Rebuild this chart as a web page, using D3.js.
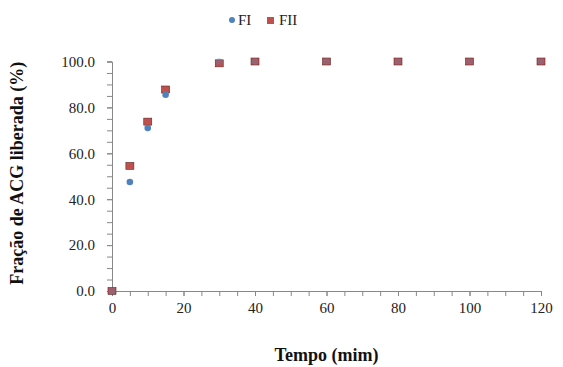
<!DOCTYPE html>
<html>
<head>
<meta charset="utf-8">
<script src="https://cdn.jsdelivr.net/npm/d3@7"></script>
<style>
  body { margin: 0; background: #fff; }
</style>
</head>
<body>
<svg width="563" height="367"></svg>
<script>
// data
const tempo = [0, 5, 10, 15, 30, 40, 60, 80, 100, 120];
const fI = [0, 47.5, 71, 85.5, 100, 100, 100, 100, 100, 100];
const fII = [0, 54.5, 73.8, 87.8, 99.2, 100, 100, 100, 100, 100];
const xTicks = [0, 20, 40, 60, 80, 100, 120];
const yTicks = [0, 20, 40, 60, 80, 100];

const serif = "Liberation Serif";

// chart dimensions
const margin = { top: 61.5, right: 22, bottom: 76, left: 112 };
const width = 563 - margin.left - margin.right;
const height = 367 - margin.top - margin.bottom;

const x = d3.scaleLinear().domain([0, 120]).range([0, width]);
const y = d3.scaleLinear().domain([0, 100]).range([height, 0]);

const svg = d3.select("svg");
const g = svg.append("g")
  .attr("transform", "translate(" + margin.left + "," + margin.top + ")");

// minor ticks every 5
g.append("g")
  .attr("transform", "translate(0," + height + ")")
  .call(d3.axisBottom(x).tickValues(d3.range(0, 121, 5)).tickSize(5).tickFormat(""))
  .call(a => a.select(".domain").remove())
  .selectAll("line").attr("stroke", "#888");
g.append("g")
  .call(d3.axisLeft(y).tickValues(d3.range(0, 101, 5)).tickSize(5).tickFormat(""))
  .call(a => a.select(".domain").remove())
  .selectAll("line").attr("stroke", "#888");

// main axes
const bottomAxis = g.append("g")
  .attr("transform", "translate(0," + height + ")")
  .call(d3.axisBottom(x).tickValues(xTicks).tickSize(5).tickPadding(6));
const leftAxis = g.append("g")
  .call(d3.axisLeft(y).tickValues(yTicks).tickSize(5).tickPadding(12).tickFormat(d3.format(".1f")));

[bottomAxis, leftAxis].forEach(a => {
  a.attr("font-family", serif).attr("font-size", 15);
  a.select(".domain").attr("stroke", "#888");
  a.selectAll("line").attr("stroke", "#888");
  a.selectAll("text").attr("fill", "#222");
});

// FII squares
g.selectAll(".fii")
  .data(tempo)
  .enter()
  .append("rect")
  .attr("class", "fii")
  .attr("x", (d) => x(d) - 4)
  .attr("y", (d, i) => y(fII[i]) - 3.5)
  .attr("width", 8)
  .attr("height", 7)
  .attr("fill", "#C0504D")
  .attr("stroke", "#5a2a28")
  .attr("stroke-width", 0.6);

// FI circles
g.selectAll(".fi")
  .data(tempo)
  .enter()
  .append("circle")
  .attr("class", "fi")
  .attr("cx", (d) => x(d))
  .attr("cy", (d, i) => y(fI[i]))
  .attr("r", 3.3)
  .attr("fill", "#4F81BD")
  .attr("opacity", (d, i) => Math.abs(fI[i] - fII[i]) > 1.2 ? 1 : 0.35);

// legend
const legend = svg.append("g").attr("font-family", serif).attr("font-size", 15).attr("fill", "#222");
legend.append("circle").attr("cx", 232).attr("cy", 20).attr("r", 3).attr("fill", "#4F81BD");
legend.append("text").attr("x", 238).attr("y", 25).text("FI");
legend.append("rect").attr("x", 267).attr("y", 17).attr("width", 7).attr("height", 7).attr("fill", "#C0504D");
legend.append("text").attr("x", 279).attr("y", 25).text("FII");

// axis titles
svg.append("text")
  .attr("x", margin.left + width / 2)
  .attr("y", 361)
  .attr("text-anchor", "middle")
  .attr("font-family", serif)
  .attr("font-size", 18)
  .attr("font-weight", "bold")
  .attr("fill", "#111")
  .text("Tempo (mim)");
svg.append("text")
  .attr("transform", "translate(23," + (margin.top + height / 2 - 3) + ") rotate(-90)")
  .attr("text-anchor", "middle")
  .attr("font-family", serif)
  .attr("font-size", 18)
  .attr("font-weight", "bold")
  .attr("fill", "#111")
  .text("Fração de ACG liberada (%)");
</script>
</body>
</html>
